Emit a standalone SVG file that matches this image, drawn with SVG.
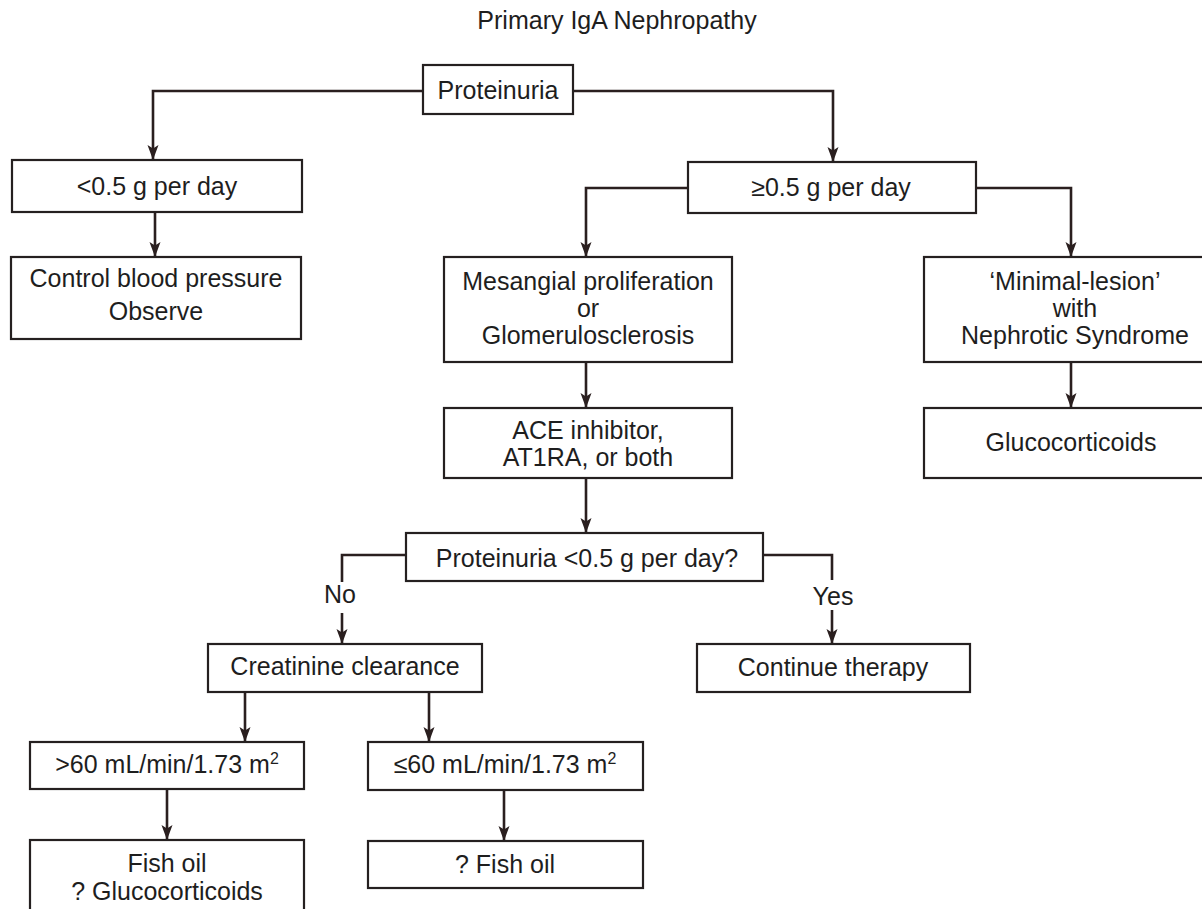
<svg xmlns="http://www.w3.org/2000/svg" width="1202" height="909" viewBox="0 0 1202 909">
<style>
.box{fill:#fff;stroke:#252020;stroke-width:2.2}
.t{font-family:"Liberation Sans",Arial,sans-serif;font-size:25px;fill:#1e1e1e;text-anchor:middle}
.c{fill:none;stroke:#2a1f1f;stroke-width:2.6}
</style>
<defs>
<marker id="ah" markerUnits="userSpaceOnUse" viewBox="-1 -7 17 14" markerWidth="17" markerHeight="14" refX="15" refY="0" orient="auto">
<path d="M0,-5.5 L15,0 L0,5.5 L3.5,0 Z" fill="#2a1f1f"/>
</marker>
</defs>
<rect width="1202" height="909" fill="#fff"/>
<text class="t" x="617" y="29">Primary IgA Nephropathy</text>
<g id="connectors">
<path class="c" d="M423,91 H153 V160" marker-end="url(#ah)"/>
<path class="c" d="M573,91 H833 V162" marker-end="url(#ah)"/>
<path class="c" d="M155,212 V257" marker-end="url(#ah)"/>
<path class="c" d="M688,188 H586 V257" marker-end="url(#ah)"/>
<path class="c" d="M976,188 H1071 V257" marker-end="url(#ah)"/>
<path class="c" d="M586,362 V408" marker-end="url(#ah)"/>
<path class="c" d="M1071,362 V408" marker-end="url(#ah)"/>
<path class="c" d="M586,478 V533" marker-end="url(#ah)"/>
<path class="c" d="M406,555 H342 V582"/>
<path class="c" d="M342,613 V644" marker-end="url(#ah)"/>
<path class="c" d="M763,555 H832 V580"/>
<path class="c" d="M832,610 V644" marker-end="url(#ah)"/>
<path class="c" d="M245,692 V742" marker-end="url(#ah)"/>
<path class="c" d="M429,692 V742" marker-end="url(#ah)"/>
<path class="c" d="M167,789 V840" marker-end="url(#ah)"/>
<path class="c" d="M504,790 V841" marker-end="url(#ah)"/>
<text class="t" x="340" y="603">No</text>
<text class="t" x="833" y="605">Yes</text>
</g>
<g id="proteinuria"><rect class="box" x="423" y="65" width="150" height="49"/><text class="t" x="498" y="99">Proteinuria</text></g>
<g id="lt05"><rect class="box" x="12" y="160" width="290" height="52"/><text class="t" x="157" y="195">&lt;0.5 g per day</text></g>
<g id="control"><rect class="box" x="11" y="257" width="290" height="82"/><text class="t" x="156" y="287">Control blood pressure</text><text class="t" x="156" y="320">Observe</text></g>
<g id="ge05"><rect class="box" x="688" y="162" width="288" height="51"/><text class="t" x="831" y="196">≥0.5 g per day</text></g>
<g id="mesangial"><rect class="box" x="444" y="257" width="288" height="105"/><text class="t" x="588" y="290">Mesangial proliferation</text><text class="t" x="588" y="317">or</text><text class="t" x="588" y="344">Glomerulosclerosis</text></g>
<g id="ace"><rect class="box" x="444" y="408" width="288" height="70"/><text class="t" x="588" y="439">ACE inhibitor,</text><text class="t" x="588" y="466">AT1RA, or both</text></g>
<g id="minimal"><rect class="box" x="924" y="257" width="300" height="105"/><text class="t" x="1075" y="290">‘Minimal-lesion’</text><text class="t" x="1075" y="317">with</text><text class="t" x="1075" y="344">Nephrotic Syndrome</text></g>
<g id="gluco"><rect class="box" x="924" y="408" width="300" height="70"/><text class="t" x="1071" y="451">Glucocorticoids</text></g>
<g id="question"><rect class="box" x="406" y="533" width="357" height="48"/><text class="t" x="587" y="567">Proteinuria &lt;0.5 g per day?</text></g>
<g id="creatinine"><rect class="box" x="208" y="644" width="274" height="48"/><text class="t" x="345" y="675">Creatinine clearance</text></g>
<g id="continue"><rect class="box" x="697" y="644" width="273" height="48"/><text class="t" x="833" y="676">Continue therapy</text></g>
<g id="gt60"><rect class="box" x="30" y="742" width="274" height="47"/><text class="t" x="167" y="773">&gt;60 mL/min/1.73 m<tspan font-size="16" dy="-9">2</tspan></text></g>
<g id="le60"><rect class="box" x="368" y="742" width="275" height="48"/><text class="t" x="505" y="773">≤60 mL/min/1.73 m<tspan font-size="16" dy="-9">2</tspan></text></g>
<g id="fishgluco"><rect class="box" x="30" y="840" width="274" height="80"/><text class="t" x="167" y="872">Fish oil</text><text class="t" x="167" y="900">? Glucocorticoids</text></g>
<g id="qfish"><rect class="box" x="368" y="841" width="275" height="47"/><text class="t" x="505" y="873">? Fish oil</text></g>
</svg>
